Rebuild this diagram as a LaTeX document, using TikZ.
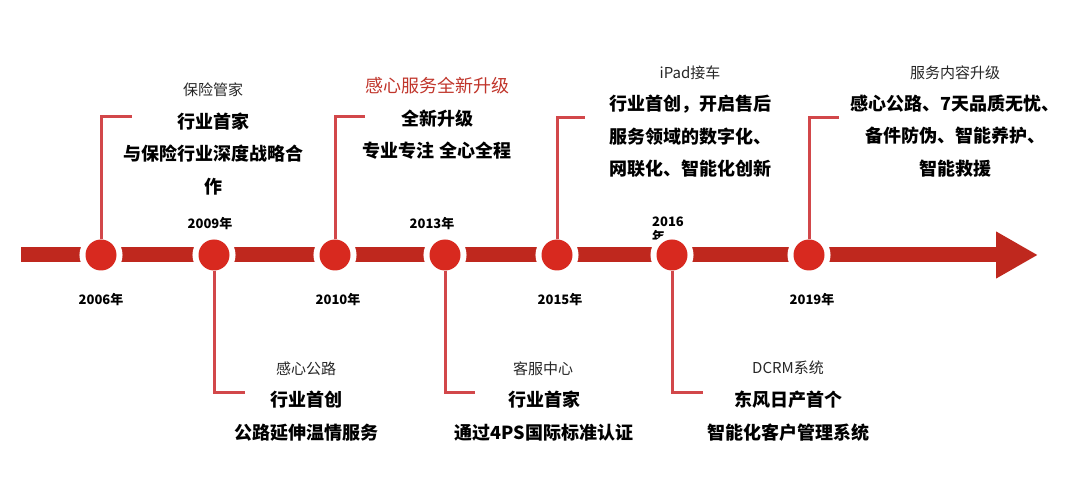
\documentclass[tikz,border=0pt]{standalone}
\usepackage{fontspec}
\setmainfont{Noto Sans CJK SC}
\usepackage{xcolor}
\definecolor{barred}{HTML}{BF281E}
\definecolor{dotred}{HTML}{D8291F}
\definecolor{stemred}{HTML}{D2474A}
\definecolor{titlered}{HTML}{C0352B}
\definecolor{textgray}{HTML}{262626}
\usepackage{tikz}
\usetikzlibrary{positioning,arrows.meta}

\begin{document}
\begin{tikzpicture}[
  x=1pt, y=-1pt,
  bar/.style={barred, line width=15pt, -{Triangle[length=42pt,width=44pt]}},
  dot/.style={circle, fill=dotred, minimum size=31pt, inner sep=0pt,
              preaction={draw=white, line width=12pt}},
  stem/.style={stemred, line width=3pt},
  year/.style={font=\fontsize{13}{15}\selectfont\bfseries, inner sep=0pt},
  head/.style={font=\fontsize{15}{18}\selectfont, text=textgray, inner sep=0pt},
  body/.style={font=\fontsize{18}{32.5}\selectfont\bfseries, align=center, inner sep=0pt}
]
  \useasboundingbox (0,0) rectangle (1080,478);

  \coordinate (start) at (21,255);
  \coordinate (tip)   at (1038,255);
  \draw[bar] (start) -- (tip);

  \node[year, align=left, anchor=north west] (y16) at (652,217) {2016\\年};

  \node[dot] (c06) at (101,255) {};
  \node[dot] (c09) at (214,255) {};
  \node[dot] (c10) at (335,255) {};
  \node[dot] (c13) at (445,255) {};
  \node[dot] (c15) at (557,255) {};
  \node[dot] (c16) at (672,255) {};
  \node[dot] (c19) at (809,255) {};

  \node[year, below=22pt of c06] (y06) {2006年};
  \node[year, above=9pt of c09, xshift=-4pt] (y09) {2009年};
  \node[year, below=22pt of c10, xshift=3pt] (y10) {2010年};
  \node[year, above=9pt of c13, xshift=-13pt] (y13) {2013年};
  \node[year, below=22pt of c15, xshift=3pt] (y15) {2015年};
  \node[year, below=22pt of c19, xshift=3pt] (y19) {2019年};

  \coordinate (b06) at (132,117);
  \coordinate (b10) at (365,117);
  \coordinate (b15) at (585,118);
  \coordinate (b19) at (839,118);
  \coordinate (b09) at (245,393);
  \coordinate (b13) at (475,393);
  \coordinate (b16) at (703,393);

  \draw[stem] (c06.north) |- (b06);
  \draw[stem] (c10.north) |- (b10);
  \draw[stem] (c15.north) |- (b15);
  \draw[stem] (c19.north) |- (b19);
  \draw[stem] (c09.south) |- (b09);
  \draw[stem] (c13.south) |- (b13);
  \draw[stem] (c16.south) |- (b16);

  \node[head] (h06) at (213,90) {保险管家};
  \node[body] (t06) at (213,154) {行业首家\\与保险行业深度战略合\\作};

  \node[head, font=\fontsize{18}{20}\selectfont, text=titlered] (h10) at (437,86) {感心服务全新升级};
  \node[body] (t10) at (437,134.5) {全新升级\\专业专注 全心全程};

  \node[head] (h15) at (690,73) {iPad接车};
  \node[body] (t15) at (690,136.5) {行业首创，开启售后\\服务领域的数字化、\\网联化、智能化创新};

  \node[head] (h19) at (955,73) {服务内容升级};
  \node[body] (t19) at (955,136) {感心公路、7天品质无忧、\\备件防伪、智能养护、\\智能救援};

  \node[head] (h09) at (306,369) {感心公路};
  \node[body] (t09) at (306,416) {行业首创\\公路延伸温情服务};

  \node[head] (h13) at (543,369) {客服中心};
  \node[body] (t13) at (544,416) {行业首家\\通过4PS国际标准认证};

  \node[head] (h16) at (788,368) {DCRM系统};
  \node[body] (t16) at (788,416) {东风日产首个\\智能化客户管理系统};
\end{tikzpicture}
\end{document}
